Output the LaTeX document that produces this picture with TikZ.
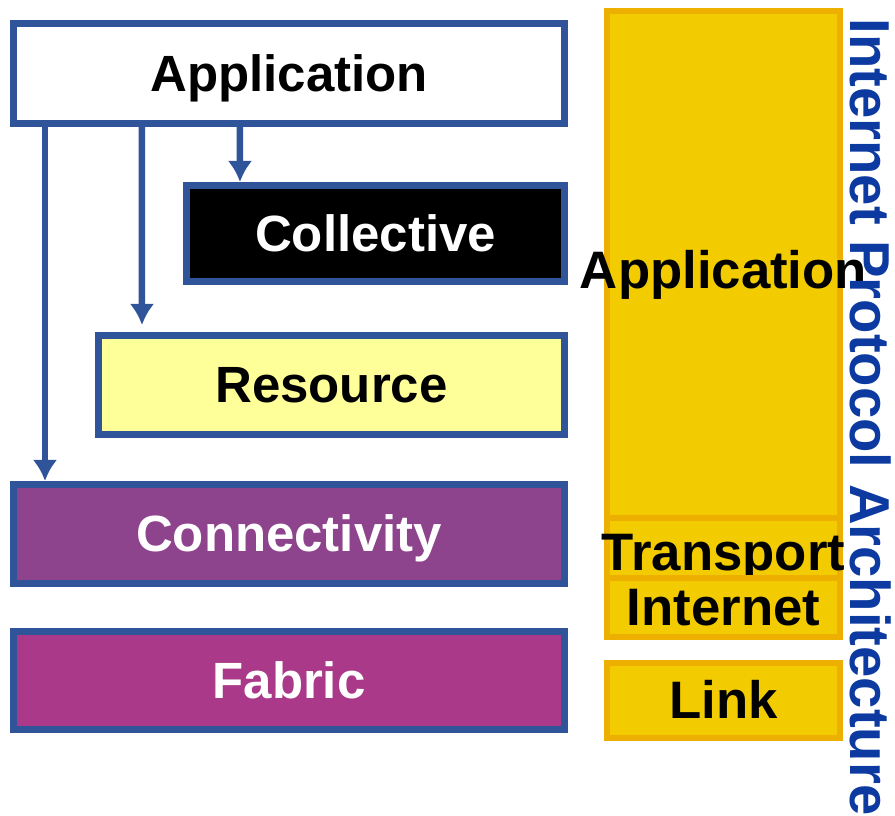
\documentclass[tikz,border=0pt]{standalone}
\usepackage{fontspec}
\setsansfont{Liberation Sans}
\usetikzlibrary{arrows.meta}

\definecolor{gridblue}{RGB}{47,84,154}
\definecolor{resyellow}{RGB}{255,255,153}
\definecolor{connpurple}{RGB}{142,68,140}
\definecolor{fabmagenta}{RGB}{170,58,137}
\definecolor{ipfill}{RGB}{242,204,0}
\definecolor{ipborder}{RGB}{238,176,0}
\definecolor{titleblue}{RGB}{12,58,160}

\tikzset{
  gridlayer/.style={draw=gridblue,line width=4pt,minimum width=11.02cm,
    font=\sffamily\bfseries\fontsize{29}{29}\selectfont,inner sep=0pt,
    text height=26pt,text depth=6pt},
  iplayer/.style={draw=ipborder,fill=ipfill,line width=3.4pt,
    minimum width=4.66cm,inner sep=0pt},
  iptext/.style={font=\sffamily\bfseries\fontsize{30}{30}\selectfont,text=black,
    text height=26pt,text depth=6pt},
  flow/.style={draw=gridblue,line width=3.7pt,-{Latex[length=12pt,width=14pt]}}
}

\begin{document}
\begin{tikzpicture}
  \useasboundingbox (0,0) rectangle (17.9,-16.32);
  % Grid-Schichten
  \node[gridlayer,fill=white,minimum height=2cm] (gapp) at (5.78,-1.47) {Application};
  \node[gridlayer,fill=black,text=white,minimum width=7.56cm,minimum height=1.92cm] (gcoll) at (7.51,-4.67) {Collective};
  \node[gridlayer,fill=resyellow,minimum width=9.32cm,minimum height=1.98cm] (gres) at (6.63,-7.70) {Resource};
  \node[gridlayer,fill=connpurple,text=white,minimum height=1.98cm] (gconn) at (5.78,-10.68) {Connectivity};
  \node[gridlayer,fill=fabmagenta,text=white,minimum height=1.96cm] (gfab) at (5.78,-13.61) {Fabric};

  % Internet-Schichten
  \node[iplayer,minimum height=10.14cm,label={[iptext,yshift=-0.12cm]center:Application}] (iapp) at (14.47,-5.29) {};
  \node[iplayer,minimum height=1.2cm,label={[iptext,yshift=-0.1cm]center:Transport}] (itrans) at (14.47,-10.96) {};
  \node[iplayer,minimum height=1.18cm,label={[iptext]center:Internet}] (inet) at (14.47,-12.15) {};
  \node[iplayer,minimum height=1.5cm,label={[iptext]center:Link}] (ilink) at (14.47,-14.01) {};

  % Titel
  \node[rotate=-90,text=titleblue,font=\sffamily\bfseries\fontsize{32}{32}\selectfont] (title) at (17.42,-8.34) {Internet Protocol Architecture};

  % Pfeile
  \draw[flow] ([xshift=0.7cm]gapp.south west) -- ([xshift=0.7cm]gconn.north west);
  \draw[flow] ([xshift=2.64cm]gapp.south west) -- ([xshift=0.94cm,yshift=0.14cm]gres.north west);
  \draw[flow] ([xshift=4.6cm]gapp.south west) -- ([xshift=1.14cm]gcoll.north west);
\end{tikzpicture}
\end{document}
